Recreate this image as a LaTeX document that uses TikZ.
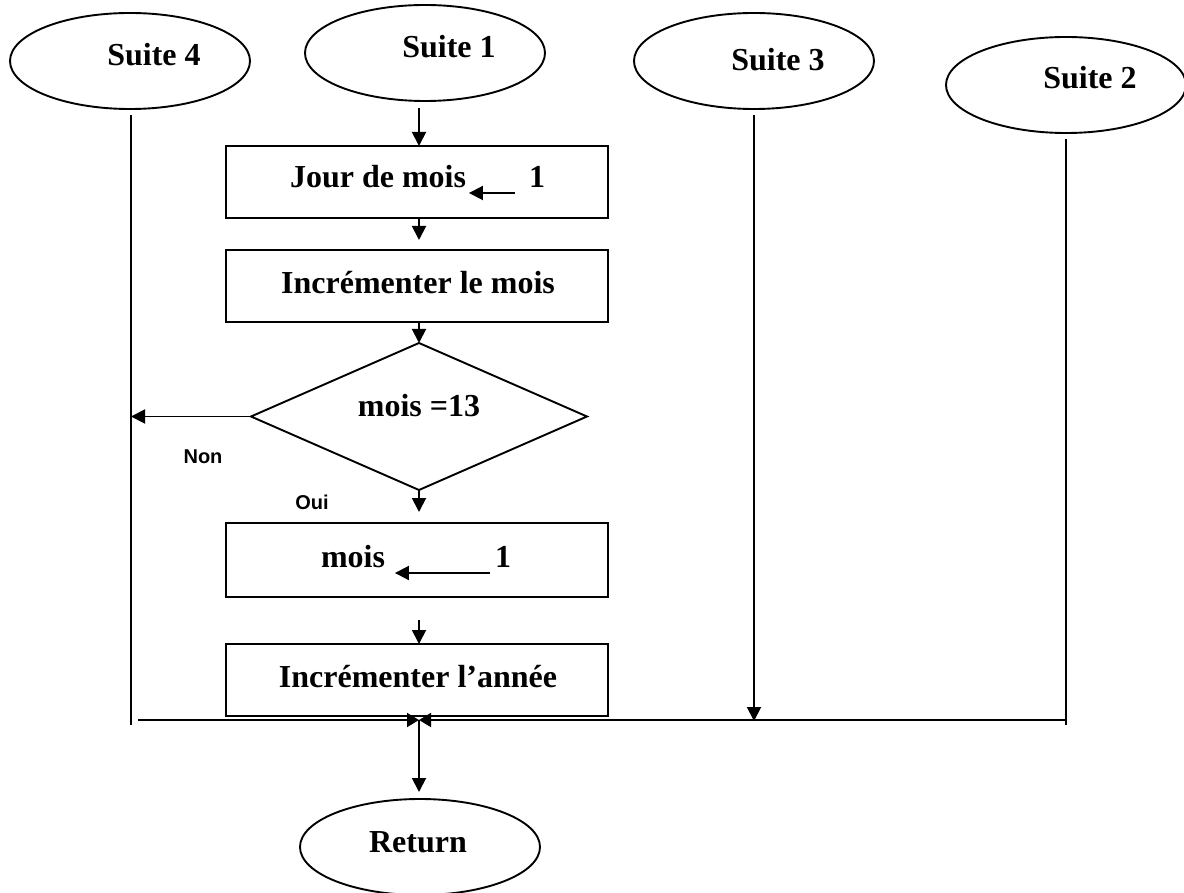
\documentclass[tikz,border=0pt]{standalone}
\usepackage{fontspec}
\setmainfont{Liberation Serif}
\newfontfamily\labelsans{Liberation Sans}
\usetikzlibrary{shapes.geometric,arrows.meta,calc}

\begin{document}
\begin{tikzpicture}[x=0.5pt,y=-0.5pt,
  line width=0.95pt,
  term/.style={ellipse,draw,minimum width=120pt,minimum height=48pt,inner sep=0pt,outer sep=0pt},
  proc/.style={rectangle,draw,minimum width=191pt,minimum height=36pt,inner sep=0pt,outer sep=0pt},
  test/.style={diamond,draw,minimum width=168pt,minimum height=73.5pt,inner sep=0pt,outer sep=0pt},
  txt/.style={font=\fontsize{16}{19}\selectfont\bfseries,inner sep=0pt},
  tag/.style={font=\labelsans\fontsize{10}{12}\selectfont\bfseries,inner sep=0pt},
  arr/.style={-{Triangle[length=7pt,width=7pt]}},
  tip/.style={-{Triangle[length=6pt,width=7pt]}},
]
\useasboundingbox (0,0) rectangle (1184,893);

% entry and exit terminals
\node[term] (s4) at (130,61) {};
\node[term] (s1) at (425,53) {};
\node[term] (s3) at (754,61) {};
\node[term] (s2) at (1066,85) {};
\node[term] (ret) at (420,847) {};
\node[txt] (t4) at ($(s4)+(24,-6)$) {Suite 4};
\node[txt] (t1) at ($(s1)+(24,-6)$) {Suite 1};
\node[txt] (t3) at ($(s3)+(24,-1)$) {Suite 3};
\node[txt] (t2) at ($(s2)+(24,-7)$) {Suite 2};
\node[txt] (tr) at ($(ret)+(-2,-5)$) {Return};

% process boxes
\node[proc] (b1) at (417,182) {};
\node[proc] (b2) at (417,286) {};
\node[proc,minimum height=37pt] (mb) at (417,560) {};
\node[proc] (ba) at (417,680) {};
\node[test] (dec) at (419,416.5) {};

% box contents
\node[txt] (jm) at (378,177) {Jour de mois};
\node[txt] (j1) at (537,177) {1};
\draw[arr] ($(j1)+(-22,16)$) -- ($(jm.east)+(2,16)$);
\node[txt] (im) at (418,283) {Incrémenter le mois};
\node[txt] (eq) at (419,406) {mois =13};
\node[txt] (mm) at (353,557) {mois};
\node[txt] (m1) at (503,557) {1};
\draw[arr] ($(m1)+(-13,16)$) -- ($(mm.east)+(9,16)$);
\node[txt] (ia) at (418,677) {Incrémenter l’année};

% branch labels
\node[tag] (non) at (203,457) {Non};
\node[tag] (oui) at (312,502) {Oui};

% main flow
\draw[arr] ($(s1.south)+(-6,7)$) -- ($(b1.north)+(2,0)$);
\draw[arr] ($(b1.south)+(2,0)$) -- ($(b2.north)+(2,-10)$);
\draw[arr] ($(b2.south)+(2,0)$) -- (dec.north);
\draw[arr] (dec.south) -- ($(mb.north)+(2,-11)$);
\draw[arr] ($(mb.south)+(2,23)$) -- ($(ba.north)+(2,0)$);

% side branches and merge line
\coordinate (l4top) at ($(s4.south)+(1,6)$);
\coordinate (l4bot) at (131,725);
\coordinate (l3bot) at (754,721);
\coordinate (l2bot) at (1066,725);
\coordinate (jn) at (419,720);
\coordinate (hl) at (138,720);
\coordinate (hr) at (1066,720);
\draw (l4top) -- (l4bot);
\draw[arr] (dec.west) -- (dec.west -| l4top);
\draw[arr] ($(s3.south)+(0,6)$) -- (l3bot);
\draw ($(s2.south)+(0,6)$) -- (l2bot);
\draw[tip] (hl) -- (jn);
\draw[tip] (hr) -- (jn);
\draw[arr] (jn) -- ($(ret.north)+(-1,-7)$);
\end{tikzpicture}
\end{document}
